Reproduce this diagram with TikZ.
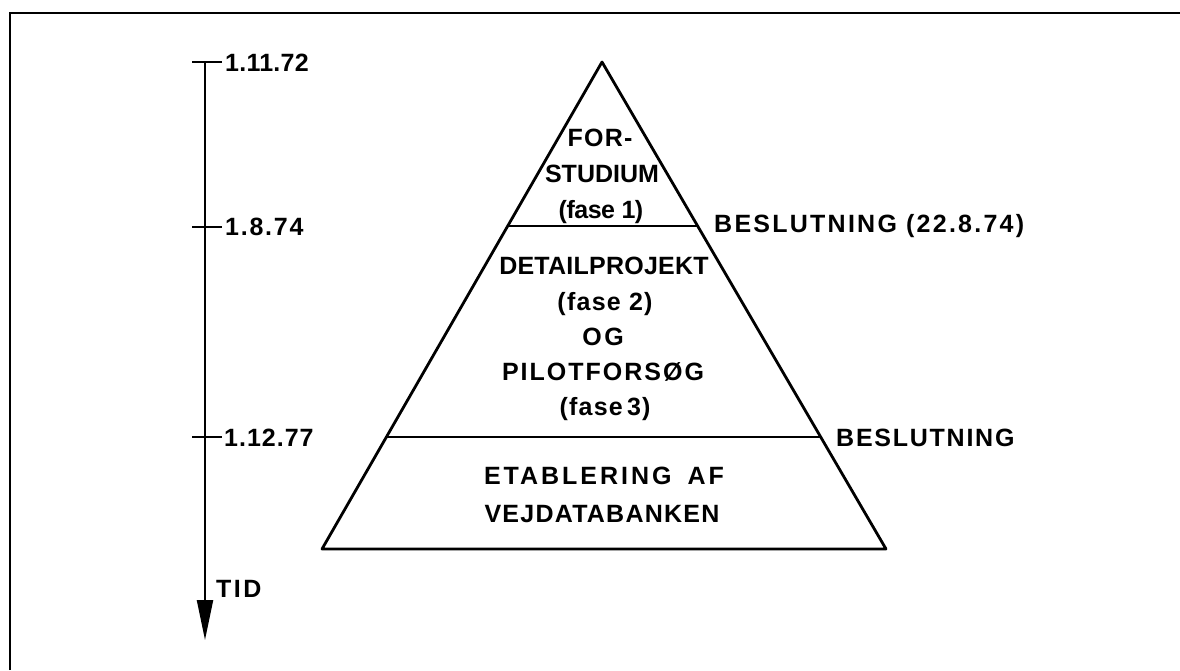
\documentclass[tikz,border=0pt]{standalone}
\usepackage{fontspec}
\setmainfont{Liberation Sans}
\usetikzlibrary{arrows.meta}
% letter spacing for individual labels
\newcommand\lsp[1]{\addfontfeatures{LetterSpace=#1}}
\tikzset{
  lbl/.style={font=\bfseries\fontsize{25}{28}\selectfont, inner sep=0pt},
  ctr/.style={lbl, anchor=base},
  side/.style={lbl, anchor=base west},
  thick line/.style={line width=2.8pt, line join=round},
  axis/.style={line width=2.2pt}
}
\begin{document}
\begin{tikzpicture}[x=1pt,y=-1pt]
\useasboundingbox (0,0) rectangle (1180,670);
% frame: top and left edges only
\draw[line width=2.2pt] (10,670) -- (10,13) -- (1180,13);

% time axis with ticks
\coordinate (t0) at (205,62);
\coordinate (t1) at (205,227);
\coordinate (t2) at (205,437);
\coordinate (tend) at (205,640);
\draw[axis, -{Triangle[length=40pt,width=16pt]}] (t0) -- (tend);
\foreach \c in {t0,t1,t2}
  \draw[axis] ([xshift=-13pt]\c) -- ([xshift=17pt]\c);
\node[side] (d0) at (225,71) {\lsp{1}1.11.72};
\node[side] (d1) at (225,235) {\lsp{7}1.8.74};
\node[side] (d2) at (224,446) {\lsp{4}1.12.77};
\node[side] (tid) at (216,597) {\lsp{10}TID};

% pyramid
\coordinate (apex) at (602,62);
\coordinate (bl) at (322,549);
\coordinate (br) at (886,549);
\coordinate (l1) at (508,226);
\coordinate (r1) at (697,226);
\coordinate (l2) at (387,437);
\coordinate (r2) at (820,437);
\draw[thick line] (apex) -- (bl) -- (br) -- cycle;
\draw[thick line] (l1) -- (r1);
\draw[thick line] (l2) -- (r2);

% phase texts
\node[ctr] (f1a) at (600,146) {\lsp{5}FOR-};
\node[ctr] (f1b) at (602,182) {\lsp{0}STUDIUM};
\node[ctr] (f1c) at (601,218) {\lsp{-2}(fase 1)};
\node[ctr] (f2a) at (604,274) {\lsp{1}DETAILPROJEKT};
\node[ctr] (f2b) at (605,310) {\lsp{5}(fase 2)};
\node[ctr] (f2c) at (603,345) {\lsp{10}OG};
\node[ctr] (f2d) at (603,380) {\lsp{8}PILOTFORSØG};
\node[ctr] (f2e) at (605,415) {\lsp{5}(fase\,3)};
\node[ctr] (f3a) at (604,484) {\lsp{12}ETABLERING\hspace{16pt}AF};
\node[ctr] (f3b) at (602,522) {\lsp{5}VEJDATABANKEN};

% decision points
\node[side] (b1) at (714,232) {\lsp{9}BESLUTNING (22.8.74)};
\node[side] (b2) at (836,446) {\lsp{7}BESLUTNING};
\end{tikzpicture}
\end{document}
